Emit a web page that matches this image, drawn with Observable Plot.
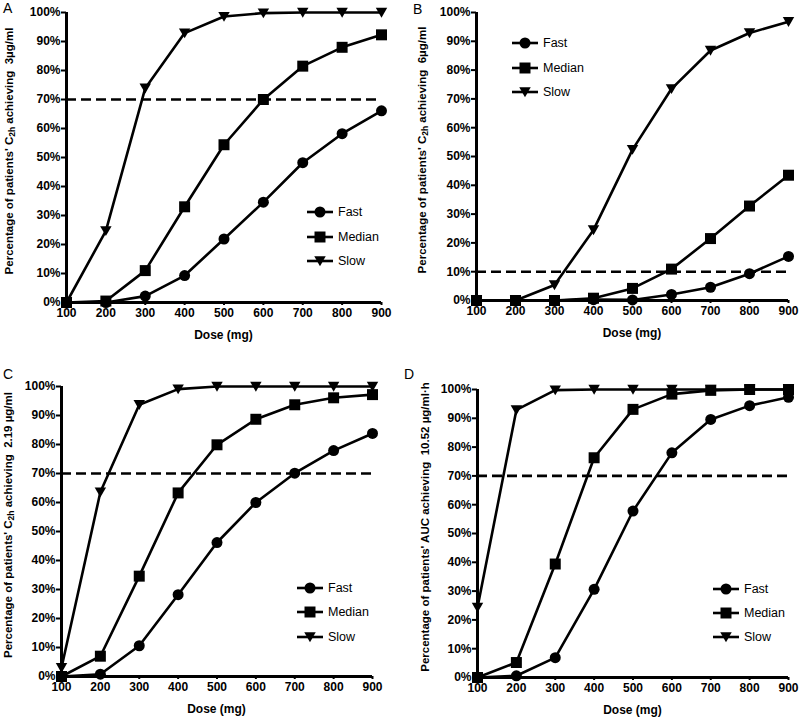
<!DOCTYPE html>
<html><head><meta charset="utf-8">
<script src="https://cdn.jsdelivr.net/npm/d3@7"></script>
<script src="https://cdn.jsdelivr.net/npm/@observablehq/plot@0.6"></script>
<style>
body{margin:0;background:#fff;}
#wrap{position:relative;width:800px;height:719px;font-family:"Liberation Sans",Arial,sans-serif;}
#wrap svg{position:absolute;}
</style></head><body><div id="wrap"></div>
<script>
const doses = [100, 200, 300, 400, 500, 600, 700, 800, 900];
const seriesNames = ["Fast", "Median", "Slow"];
const yTicks = [0, 10, 20, 30, 40, 50, 60, 70, 80, 90, 100];
const panelLetters = ["A", "B", "C", "D"];
const thresholds = [70, 10, 70, 70];

// Panel A: C2h achieving 3 µg/ml
const aFast   = [0, 0, 2.2, 9.3, 21.9, 34.6, 48.2, 58.2, 66.1];
const aMedian = [0, 0.5, 11, 33, 54.4, 70, 81.5, 88, 92.3];
const aSlow   = [0, 24.7, 73.9, 92.9, 98.6, 99.8, 100, 100, 100];
// Panel B: C2h achieving 6 µg/ml
const bFast   = [0, 0, 0, 0.3, 0.2, 2.1, 4.6, 9.3, 15.3];
const bMedian = [0, 0, 0, 0.8, 4.2, 10.9, 21.5, 32.8, 43.5];
const bSlow   = [0, 0, 5.4, 24.5, 52.4, 73.5, 86.8, 92.9, 96.8];
// Panel C: C2h achieving 2.19 µg/ml
const cFast   = [0, 0.8, 10.6, 28.2, 46.2, 60, 70.1, 77.9, 83.8];
const cMedian = [0, 7, 34.6, 63.3, 79.9, 88.7, 93.7, 96.1, 97.2];
const cSlow   = [3, 63.6, 93.7, 99.1, 100, 100, 100, 100, 100];
// Panel D: AUC achieving 10.52 µg/ml·h
const dFast   = [0, 0.6, 6.9, 30.6, 57.8, 78, 89.6, 94.4, 97.3];
const dMedian = [0, 5.2, 39.4, 76.3, 93.1, 98.4, 99.7, 100, 100];
const dSlow   = [24.3, 92.9, 99.8, 100, 100, 100, 100, 100, 100];

const yLabels = [
  ["Percentage of patients' C", "2h", " achieving  3µg/ml"],
  ["Percentage of patients' C", "2h", " achieving  6µg/ml"],
  ["Percentage of patients' C", "2h", " achieving  2.19 µg/ml"],
  ["Percentage of patients' AUC achieving  10.52 µg/ml·h", "", ""]
];
const xLabel = "Dose (mg)";

const triDown = {
  draw(ctx, size) {
    const r = Math.sqrt(size / Math.PI);
    ctx.moveTo(-1.1 * r, -0.9 * r);
    ctx.lineTo(1.1 * r, -0.9 * r);
    ctx.lineTo(0, 1.0 * r);
    ctx.closePath();
  }
};
const symbols = ["circle", "square", triDown];
const radii = [5.5, 6.2, 5.2];

const layout = [
  {left: 0,   top: 0,   w: 400, h: 360, ml: 66, mr: 19, mt: 12, mb: 58, ylx: 9,  legX: 320, legY: [212, 237, 261], letX: 3, letY: 13},
  {left: 400, top: 0,   w: 400, h: 360, ml: 76, mr: 12, mt: 12, mb: 60, ylx: 22, legX: 125, legY: [43, 68, 92], letX: 13, letY: 14},
  {left: 0,   top: 360, w: 400, h: 359, ml: 61, mr: 28, mt: 26, mb: 43, ylx: 8,  legX: 310, legY: [228, 252, 277], letX: 3, letY: 19},
  {left: 400, top: 360, w: 400, h: 359, ml: 77, mr: 12, mt: 29, mb: 42, ylx: 25, legX: 326, legY: [229, 253, 277], letX: 4, letY: 19}
];
const panelData = [[aFast, aMedian, aSlow], [bFast, bMedian, bSlow], [cFast, cMedian, cSlow], [dFast, dMedian, dSlow]];

const wrap = document.getElementById("wrap");
const font = '"Liberation Sans", Arial, sans-serif';

layout.forEach((L, k) => {
  const rows = [];
  seriesNames.forEach((s, i) => panelData[k][i].forEach((v, j) => rows.push({series: s, idx: i, dose: doses[j], pct: v})));
  const svg = Plot.plot({
    width: L.w, height: L.h,
    marginLeft: L.ml, marginRight: L.mr, marginTop: L.mt, marginBottom: L.mb,
    style: {fontFamily: font, fontSize: "12px", fontWeight: "bold", color: "#000", background: "transparent", overflow: "visible"},
    x: {domain: [100, 900], label: null},
    y: {domain: [0, 100], label: null},
    marks: [
      Plot.axisX({ticks: doses, tickSize: 3, tickPadding: 3, strokeWidth: 2, label: null, fontWeight: "bold", fontSize: 12}),
      Plot.axisY({ticks: yTicks, tickSize: 5, tickPadding: 1, strokeWidth: 2, label: null, tickFormat: d => d + "%", fontWeight: "bold", fontSize: 12}),
      Plot.ruleY([thresholds[k]], {x1: 100, x2: 900, stroke: "#000", strokeWidth: 2.6, strokeDasharray: "10,5"}),
      Plot.ruleX([100], {y1: 0, y2: 100, stroke: "#000", strokeWidth: 3}),
      Plot.ruleY([0], {x1: 100, x2: 900, stroke: "#000", strokeWidth: 3}),
      Plot.line(rows, {x: "dose", y: "pct", z: "series", stroke: "#000", strokeWidth: 2.6}),
      ...seriesNames.map((s, i) => Plot.dot(rows.filter(d => d.idx === i), {x: "dose", y: "pct", symbol: symbols[i], r: radii[i], fill: "#000", stroke: "none"}))
    ]
  });
  svg.style.left = L.left + "px";
  svg.style.top = L.top + "px";
  wrap.appendChild(svg);

  const g = d3.select(svg).append("g").attr("font-family", font);
  // panel letter
  g.append("text").attr("x", L.letX).attr("y", L.letY).attr("text-anchor", "start")
    .attr("font-size", 14).attr("font-weight", "normal").text(panelLetters[k]);
  // y label
  const cy = (L.mt + (L.h - L.mb)) / 2 - 6;
  const yl = g.append("text").attr("transform", `translate(${L.ylx},${cy}) rotate(-90)`)
    .attr("text-anchor", "middle").attr("dominant-baseline", "central")
    .attr("font-size", 11.5).attr("font-weight", "bold");
  yl.append("tspan").text(yLabels[k][0]);
  if (yLabels[k][1]) yl.append("tspan").attr("font-size", 8.5).attr("dy", 3).text(yLabels[k][1]);
  if (yLabels[k][2]) yl.append("tspan").attr("dy", -3).text(yLabels[k][2]);
  // x label
  const cx = (L.ml + (L.w - L.mr)) / 2;
  g.append("text").attr("x", cx).attr("y", L.h - L.mb + 37).attr("text-anchor", "middle")
    .attr("font-size", 12).attr("font-weight", "bold").text(xLabel);
  // legend
  seriesNames.forEach((s, i) => {
    const y = L.legY[i];
    g.append("line").attr("x1", L.legX - 13).attr("x2", L.legX + 13).attr("y1", y).attr("y2", y)
      .attr("stroke", "#000").attr("stroke-width", 2.6);
    const sym = typeof symbols[i] === "string" ? (symbols[i] === "circle" ? d3.symbolCircle : d3.symbolSquare) : symbols[i];
    g.append("path").attr("transform", `translate(${L.legX},${y})`)
      .attr("d", d3.symbol(sym, radii[i] * radii[i] * Math.PI)()).attr("fill", "#000");
    g.append("text").attr("x", L.legX + 18).attr("y", y).attr("dominant-baseline", "central")
      .attr("text-anchor", "start").attr("font-size", 12.5).attr("font-weight", "normal").text(s);
  });
});
</script>
</body></html>
